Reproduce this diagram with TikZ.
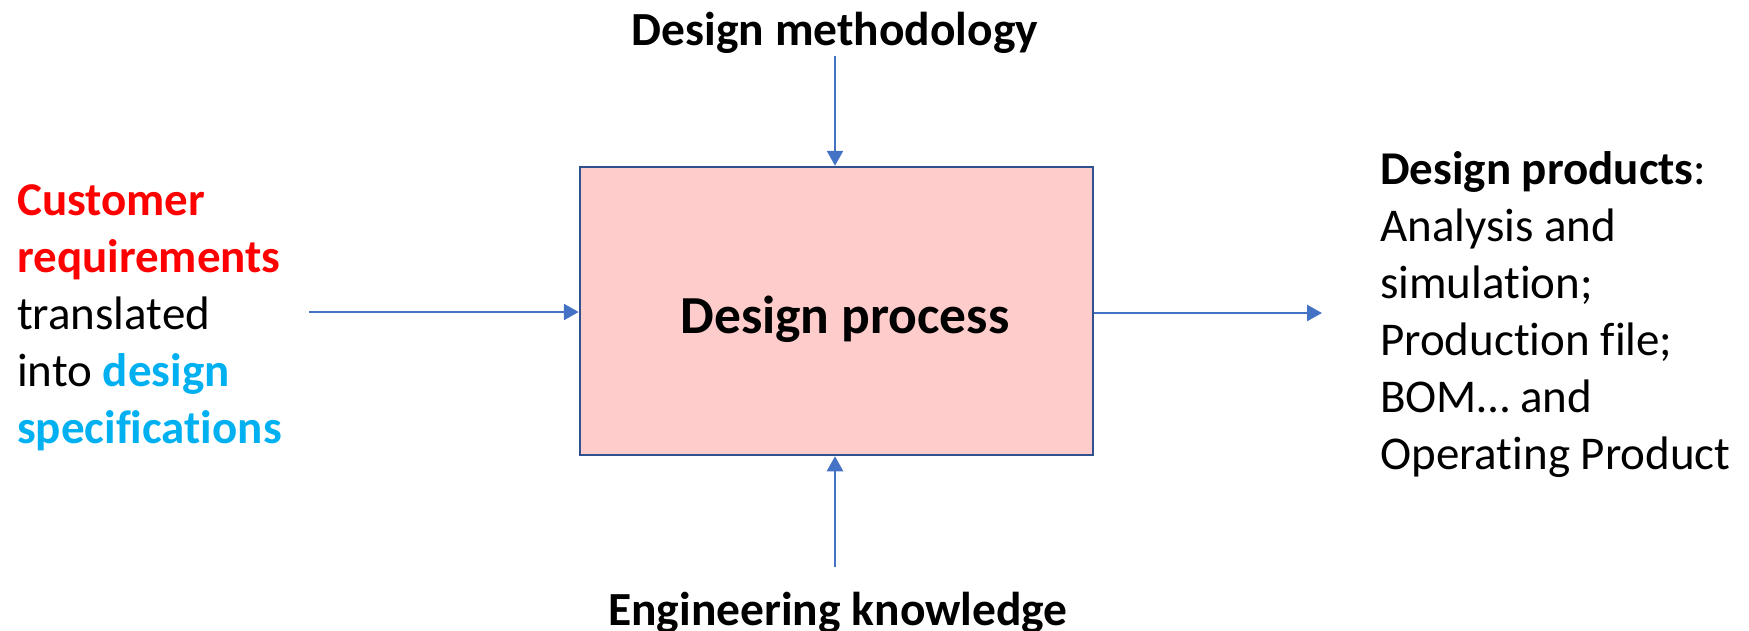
\documentclass[tikz,border=0pt]{standalone}
\usepackage{fontspec}
\setmainfont[Ligatures=NoCommon]{Carlito}
\usetikzlibrary{arrows.meta}
\definecolor{flowblue}{HTML}{4472C4}
\definecolor{boxedge}{HTML}{2F528F}
\definecolor{boxfill}{HTML}{FFCCCC}
\definecolor{reqred}{HTML}{FF0000}
\definecolor{speccyan}{HTML}{00B0F0}
\begin{document}
\begin{tikzpicture}[x=1pt,y=-1pt,
  flow/.style={draw=flowblue,line width=2.6pt,-{Triangle[length=15pt,width=16pt]}},
  txt/.style={inner sep=0pt,font=\fontsize{47}{57}\selectfont},
  head/.style={txt,font=\fontsize{47.5}{57}\selectfont\bfseries},
  ]
\useasboundingbox (0,0) rectangle (1749,630);

% central process box
\node[draw=boxedge,fill=boxfill,line width=2.5pt,minimum width=513pt,
      minimum height=288pt,inner sep=0pt] (proc) at (836.5,311) {};
\node[txt,font=\fontsize{53.5}{60}\selectfont\bfseries,anchor=base] (ptext) at (845,333) {Design process};

% control and mechanism labels
\node[head,anchor=base] (method) at (835,45) {Design methodology};
\node[head,anchor=base] (knowl) at (838,625) {Engineering knowledge};

% input text (anchored at the baseline of its last line)
\node[txt,anchor=base west,align=left] (input) at (17,443)
  {\textcolor{reqred}{\textbf{Customer}}\\
   \textcolor{reqred}{\textbf{requirements}}\\
   translated\\
   into \textcolor{speccyan}{\textbf{design}}\\
   \textcolor{speccyan}{\textbf{specifications}}};

% output text (anchored at the baseline of its last line)
\node[txt,anchor=base west,align=left] (output) at (1380,469)
  {\textbf{Design products}:\\
   Analysis and\\
   simulation;\\
   Production file;\\
   BOM\dots\ and\\
   Operating Product};

% arrows
\coordinate (mstart) at (835,56);
\coordinate (kstart) at (835,567);
\coordinate (istart) at (309,312);
\coordinate (oend) at (1322,313);
\draw[flow] (mstart) -- (mstart |- proc.north);
\draw[flow] (kstart) -- (kstart |- proc.south);
\draw[flow] (istart) -- (istart -| proc.west);
\draw[flow] (oend -| proc.east) -- (oend);
\end{tikzpicture}
\end{document}
